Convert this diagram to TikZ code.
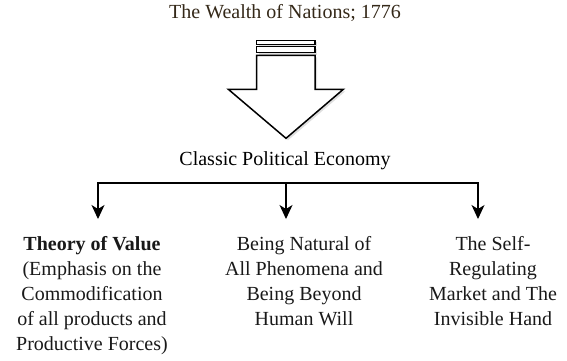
\documentclass[tikz,border=0pt]{standalone}
\usepackage{fontspec}
\setmainfont{Liberation Serif}
\usetikzlibrary{arrows.meta, shadows}
\definecolor{titlebrown}{RGB}{52,40,24}

\begin{document}
\begin{tikzpicture}[x=1pt, y=-1pt,
    heading/.style={font=\fontsize{20}{25}\selectfont, inner sep=0pt, anchor=base, align=center},
    topic/.style={heading, text=black!90},
    bigarrow/.style={draw, line width=1.5pt, fill=white, drop shadow={opacity=0.25, shadow xshift=2pt, shadow yshift=-2pt}},
    branch/.style={draw, line width=1.2pt, -{Stealth[length=14pt, width=13pt, inset=4pt]}}
]
    \useasboundingbox (0,0) rectangle (567,360);

    % Headings
    \node[heading, text=titlebrown] (wealth) at (285,18.5) {The Wealth of Nations; 1776};
    \node[heading] (economy) at (285,165) {Classic Political Economy};

    % Big arrow
    \draw[bigarrow] (256.7,40.3) rectangle (315,44.3);
    \draw[bigarrow] (256.7,46.7) rectangle (315,52.7);
    \draw[bigarrow] (256.7,55.3) -- (315,55.3) -- (315,89.3) -- (343.3,89.3) -- (286,138.3) -- (228.3,89.3) -- (256.7,89.3) -- cycle;

    % Topics (base = baseline of the last line)
    \node[topic] (value) at (92,350.5) {\textbf{Theory of Value}\\(Emphasis on the\\Commodification\\of all products and\\Productive Forces)};
    \node[topic] (natural) at (304,325.5) {Being Natural of\\All Phenomena and\\Being Beyond\\Human Will};
    \node[topic] (market) at (493,325.5) {The Self-\\Regulating\\Market and The\\Invisible Hand};

    % Branches
    \coordinate (barL) at (98,183);
    \coordinate (barM) at (286,183);
    \coordinate (barR) at (478,183);
    \coordinate (tipL) at (98,219);
    \coordinate (tipM) at (286,219);
    \coordinate (tipR) at (478,219);
    \draw[branch, {Stealth[length=14pt, width=13pt, inset=4pt]}-{Stealth[length=14pt, width=13pt, inset=4pt]}] (tipL) -- (barL) -- (barR) -- (tipR);
    \draw[branch] (barM) -- (tipM);
\end{tikzpicture}
\end{document}
